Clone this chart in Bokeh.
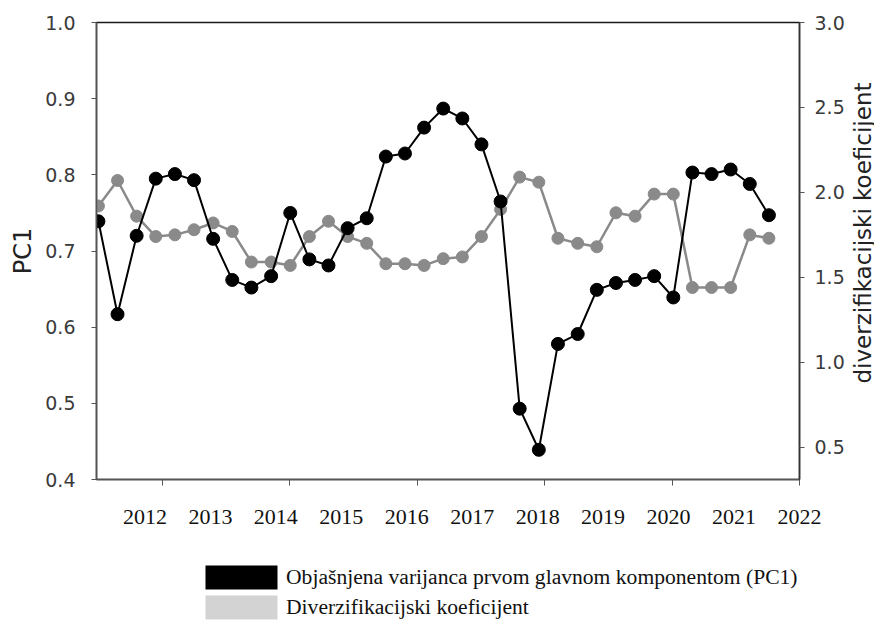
import numpy as np
from bokeh.plotting import figure
from bokeh.layouts import column, row
from bokeh.models import (Range1d, LinearAxis, FixedTicker, Legend, LegendItem,
                          ColumnDataSource, Title)
from bokeh.embed import file_html
from bokeh.resources import INLINE

# ---- data ----
periods = [2011.00, 2011.30, 2011.60, 2011.90, 2012.20, 2012.50, 2012.80, 2013.10,
           2013.40, 2013.71, 2014.01, 2014.31, 2014.61, 2014.91, 2015.21, 2015.51,
           2015.81, 2016.11, 2016.41, 2016.71, 2017.01, 2017.31, 2017.61, 2017.91,
           2018.21, 2018.52, 2018.82, 2019.12, 2019.42, 2019.72, 2020.02, 2020.32,
           2020.62, 2020.92, 2021.22, 2021.52]

pc1 = [0.739, 0.617, 0.720, 0.795, 0.801, 0.793, 0.716, 0.662, 0.652, 0.667,
       0.750, 0.689, 0.681, 0.730, 0.743, 0.824, 0.828, 0.862, 0.887, 0.874,
       0.840, 0.765, 0.493, 0.439, 0.578, 0.591, 0.649, 0.658, 0.662, 0.667,
       0.639, 0.803, 0.801, 0.807, 0.788, 0.747]

div_coef = [1.92, 2.07, 1.86, 1.74, 1.75, 1.78, 1.82, 1.77, 1.59, 1.59,
            1.57, 1.74, 1.83, 1.74, 1.70, 1.58, 1.58, 1.57, 1.61, 1.62,
            1.74, 1.90, 2.09, 2.06, 1.73, 1.70, 1.68, 1.88, 1.86, 1.99,
            1.99, 1.44, 1.44, 1.44, 1.75, 1.73]

year_ticks = [2012, 2014, 2016, 2018, 2020, 2022]
year_labels = [2012, 2013, 2014, 2015, 2016, 2017, 2018, 2019, 2020, 2021, 2022]
pc1_ticks = [0.4, 0.5, 0.6, 0.7, 0.8, 0.9, 1.0]
div_ticks = [0.5, 1.0, 1.5, 2.0, 2.5, 3.0]

left_label = "PC1"
right_label = "diverzifikacijski koeficijent"
legend_labels = ["Objašnjena varijanca prvom glavnom komponentom (PC1)",
                 "Diverzifikacijski koeficijent"]

sans = "DejaVu Sans"
serif = "Liberation Serif"
grey = "#8a8a8a"

# ---- main figure ----
p = figure(frame_width=703, frame_height=457,
           min_border_left=96, min_border_right=46, min_border_top=22, min_border_bottom=85,
           x_range=Range1d(2010.97, 2022.0), y_range=Range1d(0.4, 1.0),
           x_axis_type=None, y_axis_type=None,
           output_backend="svg", toolbar_location=None)
p.extra_y_ranges = {"div": Range1d(0.31, 3.0)}
p.extra_x_ranges = {"lab": Range1d(2011.26, 2022.001)}
p.grid.visible = False
p.outline_line_color = "#1a1a1a"
p.outline_line_width = 1.5

# left axis
ly = LinearAxis(ticker=FixedTicker(ticks=pc1_ticks), axis_label=left_label,
                major_label_overrides={t: f"{t:.1f}" for t in pc1_ticks})
ly.axis_line_color = "#555555"
ly.axis_line_width = 1.5
ly.major_tick_in = 0
ly.major_tick_out = 5
ly.major_tick_line_color = "#555555"
ly.minor_tick_line_color = None
ly.major_label_standoff = 16
ly.major_label_text_font = sans
ly.major_label_text_font_size = "19px"
ly.major_label_text_color = "#3a3a3a"
ly.axis_label_text_font = sans
ly.axis_label_text_font_size = "24px"
ly.axis_label_text_font_style = "normal"
ly.axis_label_text_color = "#222222"
ly.axis_label_standoff = 5
p.add_layout(ly, "left")

# right axis (its title is drawn in the narrow panel to the right)
ry = LinearAxis(y_range_name="div", ticker=FixedTicker(ticks=div_ticks),
                major_label_overrides={t: f"{t:.1f}" for t in div_ticks})
ry.axis_line_color = "#333333"
ry.axis_line_width = 1.5
ry.major_tick_in = 0
ry.major_tick_out = 5
ry.major_tick_line_color = "#555555"
ry.minor_tick_line_color = None
ry.major_label_standoff = 10
ry.major_label_text_font = sans
ry.major_label_text_font_size = "19px"
ry.major_label_text_color = "#3a3a3a"
p.add_layout(ry, "right")

# bottom axis with tick marks (no labels)
xa = LinearAxis(ticker=FixedTicker(ticks=year_ticks))
xa.axis_line_color = "#555555"
xa.axis_line_width = 1.5
xa.major_tick_in = 0
xa.major_tick_out = 6
xa.major_tick_line_color = "#555555"
xa.minor_tick_line_color = None
xa.major_label_text_font_size = "1px"
xa.major_label_text_color = None
xa.major_label_standoff = 0
p.add_layout(xa, "below")

# bottom axis with the year labels
xb = LinearAxis(x_range_name="lab", ticker=FixedTicker(ticks=year_labels))
xb.axis_line_color = None
xb.major_tick_line_color = None
xb.minor_tick_line_color = None
xb.major_tick_in = 0
xb.major_tick_out = 0
xb.major_label_standoff = 24
xb.major_label_text_font = serif
xb.major_label_text_font_size = "22px"
xb.major_label_text_color = "#111111"
p.add_layout(xb, "below")

# series
p.line(periods, div_coef, y_range_name="div", line_color=grey, line_width=2.5)
p.scatter(periods, div_coef, y_range_name="div", size=12, fill_color=grey, line_color=grey)
p.line(periods, pc1, line_color="black", line_width=2)
p.scatter(periods, pc1, size=13, fill_color="black", line_color="black")

# ---- narrow panel carrying the right axis title ----
pr = figure(frame_width=1, frame_height=457,
            min_border_left=0, min_border_right=0, min_border_top=22, min_border_bottom=85,
            x_axis_type=None, y_axis_type=None,
            output_backend="svg", toolbar_location=None)
pr.grid.visible = False
pr.outline_line_color = None
pr.add_layout(Title(text=right_label, align="right", text_font=sans,
                    text_font_size="23px", text_font_style="normal",
                    text_color="#222222", standoff=0, offset=60), "left")

# ---- legend strip ----
pl = figure(width=874, height=58, min_border=0,
            x_axis_type=None, y_axis_type=None,
            output_backend="svg", toolbar_location=None)
pl.grid.visible = False
pl.outline_line_color = None
# swatch renderers: one undefined (NaN) row each, so only the legend shows them
swatch = ColumnDataSource(dict(left=np.array([np.nan]), right=np.array([np.nan]),
                               top=np.array([np.nan]), bottom=np.array([np.nan])))
r1 = pl.quad(left="left", right="right", top="top", bottom="bottom", source=swatch,
             fill_color="black", line_color=None)
r2 = pl.quad(left="left", right="right", top="top", bottom="bottom", source=swatch,
             fill_color="#d3d3d3", line_color=None)
legend = Legend(items=[LegendItem(label=legend_labels[0], renderers=[r1]),
                       LegendItem(label=legend_labels[1], renderers=[r2])],
                location=(196, 0), glyph_width=90, glyph_height=30, spacing=-5,
                padding=0, margin=0, border_line_color=None, background_fill_alpha=0,
                label_text_font=serif, label_text_font_size="21.6px",
                label_text_color="#111111", label_standoff=-6, label_height=24)
pl.add_layout(legend)

layout = column(row(p, pr), pl)
open("out.html", "w").write(file_html(layout, INLINE))
